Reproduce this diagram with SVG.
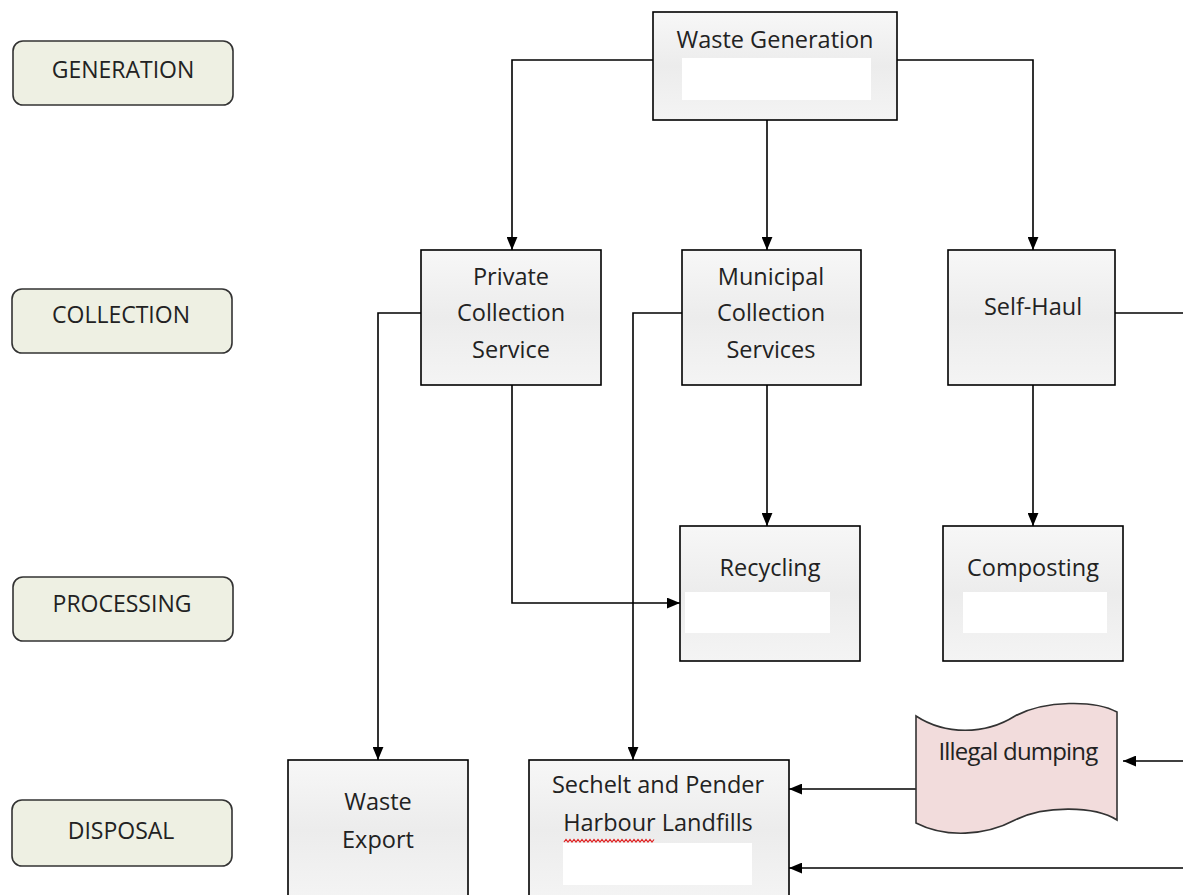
<svg xmlns="http://www.w3.org/2000/svg" width="1183" height="895" viewBox="0 0 1183 895">
<defs>
<linearGradient id="boxg" x1="0" y1="0" x2="0" y2="1">
<stop offset="0" stop-color="#f7f7f7"/>
<stop offset="0.5" stop-color="#ececec"/>
<stop offset="1" stop-color="#f4f4f4"/>
</linearGradient>
<marker id="arr" viewBox="0 0 12 10" refX="12" refY="5" markerWidth="13" markerHeight="11" markerUnits="userSpaceOnUse" orient="auto">
<path d="M0,0 L12,5 L0,10 z" fill="#000"/>
</marker>
</defs>
<style>
.box{fill:url(#boxg);stroke:#000;stroke-width:1.6}
.lab{fill:#eef0e3;stroke:#333;stroke-width:1.6}
.inner{fill:#fff;stroke:none}
.t{font-family:"Open Sans","Liberation Sans",sans-serif;font-size:23.5px;fill:#222;text-anchor:middle}
.lt{font-family:"Open Sans","Liberation Sans",sans-serif;font-size:23px;fill:#222;text-anchor:middle}
.c{fill:none;stroke:#000;stroke-width:1.6}
</style>
<rect width="1183" height="895" fill="#fff"/>

<g id="label-generation"><rect class="lab" x="13" y="41" width="220" height="64" rx="10"/><text class="lt" x="123" y="78">GENERATION</text></g>
<g id="label-collection"><rect class="lab" x="12" y="289" width="220" height="64" rx="10"/><text class="lt" x="121" y="323">COLLECTION</text></g>
<g id="label-processing"><rect class="lab" x="13" y="577" width="220" height="64" rx="10"/><text class="lt" x="122" y="612">PROCESSING</text></g>
<g id="label-disposal"><rect class="lab" x="12" y="800" width="220" height="66" rx="10"/><text class="lt" x="121" y="839">DISPOSAL</text></g>

<g id="connectors">
<path class="c" d="M653,60 H512 V250" marker-end="url(#arr)"/>
<path class="c" d="M767,120 V250" marker-end="url(#arr)"/>
<path class="c" d="M897,60 H1033 V250" marker-end="url(#arr)"/>
<path class="c" d="M421,313 H378 V760" marker-end="url(#arr)"/>
<path class="c" d="M512,385 V603 H680" marker-end="url(#arr)"/>
<path class="c" d="M682,313 H633 V760" marker-end="url(#arr)"/>
<path class="c" d="M767,385 V526" marker-end="url(#arr)"/>
<path class="c" d="M1033,385 V526" marker-end="url(#arr)"/>
<path class="c" d="M1115,313 H1185"/>
<path class="c" d="M1185,761 H1123" marker-end="url(#arr)"/>
<path class="c" d="M916,789 H789" marker-end="url(#arr)"/>
<path class="c" d="M1185,868 H789" marker-end="url(#arr)"/>
</g>

<g id="waste-generation"><rect class="box" x="653" y="12" width="244" height="108"/><rect class="inner" x="682" y="58" width="189" height="42"/><text class="t" x="775" y="48">Waste Generation</text></g>

<g id="private-collection"><rect class="box" x="421" y="250" width="180" height="135"/><text class="t" x="511" y="285">Private</text><text class="t" x="511" y="321">Collection</text><text class="t" x="511" y="358">Service</text></g>

<g id="municipal-collection"><rect class="box" x="682" y="250" width="179" height="135"/><text class="t" x="771" y="285">Municipal</text><text class="t" x="771" y="321">Collection</text><text class="t" x="771" y="358">Services</text></g>

<g id="self-haul"><rect class="box" x="948" y="250" width="167" height="135"/><text class="t" x="1033" y="315">Self-Haul</text></g>

<g id="recycling"><rect class="box" x="680" y="526" width="180" height="135"/><rect class="inner" x="685" y="592" width="145" height="41"/><text class="t" x="770" y="576">Recycling</text></g>

<g id="composting"><rect class="box" x="943" y="526" width="180" height="135"/><rect class="inner" x="963" y="592" width="144" height="41"/><text class="t" x="1033" y="576">Composting</text></g>

<g id="illegal-dumping"><path d="M916,716 C945,735 985,735 1015,716 C1045,700 1095,700 1117,712 L1117,820 C1095,806 1045,805 1015,820 C985,836 945,838 916,823 Z" fill="#f2dcdc" stroke="#333" stroke-width="1.6"/><text class="t" x="1018" y="760" style="font-size:24px;letter-spacing:-0.8px">Illegal dumping</text></g>

<g id="waste-export"><rect class="box" x="288" y="760" width="180" height="140"/><text class="t" x="378" y="810">Waste</text><text class="t" x="378" y="848">Export</text></g>

<g id="landfills"><rect class="box" x="529" y="760" width="260" height="140"/><rect class="inner" x="563" y="843" width="189" height="42"/><text class="t" x="658" y="793">Sechelt and Pender</text><text class="t" x="658" y="831">Harbour Landfills</text><path d="M564,842 l2,-2.5 l2,2.5 l2,-2.5 l2,2.5 l2,-2.5 l2,2.5 l2,-2.5 l2,2.5 l2,-2.5 l2,2.5 l2,-2.5 l2,2.5 l2,-2.5 l2,2.5 l2,-2.5 l2,2.5 l2,-2.5 l2,2.5 l2,-2.5 l2,2.5 l2,-2.5 l2,2.5 l2,-2.5 l2,2.5 l2,-2.5 l2,2.5 l2,-2.5 l2,2.5 l2,-2.5 l2,2.5 l2,-2.5 l2,2.5 l2,-2.5 l2,2.5 l2,-2.5 l2,2.5 l2,-2.5 l2,2.5 l2,-2.5 l2,2.5 l2,-2.5 l2,2.5 l2,-2.5 l2,2.5 l2,-2.5" fill="none" stroke="#e02020" stroke-width="1.2"/></g>
</svg>
